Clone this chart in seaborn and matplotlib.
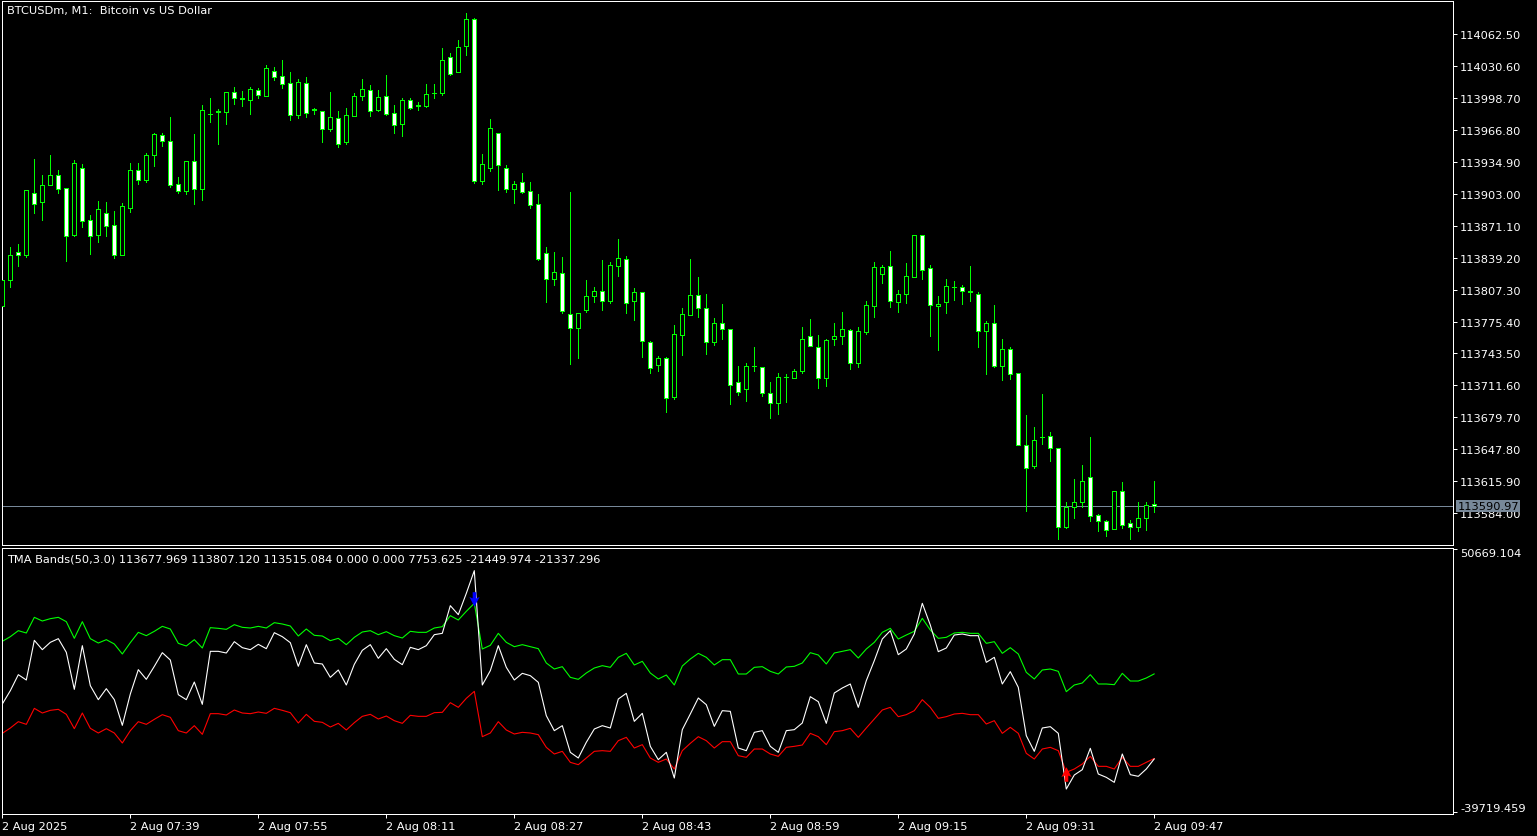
import numpy as np
import pandas as pd
import matplotlib.pyplot as plt
import seaborn as sns
from matplotlib.path import Path

# BTCUSDm M1 蜡烛数据 (2 Aug 2025 07:23 - 09:47)
opens = [
    113791.3, 113817.3, 113844.7, 113842.3, 113903.7, 113895.3, 113912.3, 113921.7, 113908.7, 113862.0,
    113928.7, 113876.7, 113862.3, 113883.7, 113871.7, 113842.3, 113889.3, 113926.7, 113917.3, 113941.7,
    113961.7, 113955.7, 113912.7, 113906.3, 113935.7, 113908.3, 113982.5, 113985.3, 113985.3, 114004.7,
    113998.3, 113997.3, 114006.7, 114001.3, 114025.7, 114020.7, 114013.7, 113982.3, 114013.7, 113987.3,
    113985.7, 113968.3, 113978.7, 113955.0, 113981.3, 114001.3, 114006.7, 113987.3, 114000.7, 113983.7,
    113973.3, 113996.7, 113991.3, 113991.3, 114003.7, 114004.3, 114039.7, 114024.7, 114050.7, 114077.7,
    113916.3, 113929.3, 113963.7, 113928.7, 113908.3, 113914.7, 113905.7, 113892.7, 113843.7, 113818.3,
    113823.7, 113782.7, 113769.3, 113787.3, 113801.3, 113805.7, 113796.3, 113831.3, 113837.7, 113795.7,
    113804.7, 113754.7, 113731.7, 113738.7, 113700.3, 113761.7, 113781.7, 113801.7, 113788.7, 113754.7,
    113773.7, 113767.7, 113714.7, 113707.7, 113730.7, 113729.7, 113703.7, 113693.7, 113719.7, 113718.7,
    113725.7, 113760.7, 113749.7, 113718.7, 113757.7, 113760.7, 113766.7, 113733.7, 113764.7, 113790.7,
    113822.7, 113830.7, 113794.7, 113802.7, 113819.7, 113861.7, 113828.7, 113790.7, 113794.7, 113809.7,
    113809.7, 113805.3, 113802.7, 113765.7, 113773.7, 113730.7, 113747.7, 113723.7, 113651.7, 113630.7,
    113660.0, 113660.7, 113648.7, 113569.7, 113589.7, 113594.7, 113619.7, 113581.7, 113575.7, 113567.7,
    113605.7, 113573.7, 113569.7, 113578.7, 113592.7,
]
highs = [
    113820.0, 113850.0, 113853.0, 113906.7, 113938.0, 113922.0, 113942.0, 113927.0, 113908.7, 113937.0,
    113933.0, 113882.0, 113896.0, 113895.0, 113886.0, 113894.0, 113934.0, 113934.0, 113944.0, 113964.0,
    113964.0, 113980.0, 113919.7, 113935.7, 113963.0, 113992.0, 113999.0, 113988.0, 114004.7, 114010.0,
    114006.0, 114010.0, 114009.3, 114032.0, 114029.7, 114037.0, 114025.0, 114018.0, 114020.0, 113989.3,
    113985.7, 114005.0, 113985.7, 113989.0, 114003.7, 114018.0, 114011.7, 114007.0, 114022.0, 113991.7,
    113999.0, 113998.7, 113994.7, 114013.0, 114013.0, 114048.7, 114043.7, 114056.7, 114084.0, 114078.7,
    113942.7, 113977.7, 113963.7, 113931.7, 113915.7, 113924.0, 113915.0, 113903.0, 113850.0, 113845.0,
    113840.0, 113905.0, 113783.7, 113817.0, 113809.7, 113837.0, 113835.0, 113858.0, 113840.7, 113808.7,
    113804.7, 113755.7, 113740.7, 113739.7, 113771.7, 113788.7, 113838.0, 113819.7, 113802.7, 113778.7,
    113793.0, 113767.7, 113730.7, 113733.7, 113749.7, 113729.7, 113714.7, 113723.7, 113722.7, 113727.7,
    113769.7, 113777.7, 113761.7, 113757.7, 113773.7, 113784.7, 113767.7, 113769.7, 113795.7, 113834.7,
    113831.7, 113845.7, 113806.7, 113833.7, 113861.7, 113861.7, 113831.7, 113800.7, 113817.7, 113815.7,
    113811.7, 113830.7, 113804.7, 113775.7, 113791.7, 113757.7, 113749.7, 113723.7, 113681.7, 113669.7,
    113702.7, 113664.7, 113648.7, 113594.7, 113617.7, 113631.7, 113659.7, 113582.7, 113576.7, 113605.7,
    113614.7, 113576.7, 113594.7, 113594.7, 113615.7,
]
lows = [
    113786.0, 113810.3, 113831.3, 113840.3, 113884.0, 113877.3, 113912.3, 113904.3, 113836.3, 113860.7,
    113870.3, 113843.0, 113855.3, 113861.3, 113839.3, 113842.3, 113885.3, 113913.3, 113915.3, 113931.3,
    113950.7, 113910.3, 113904.3, 113903.3, 113893.0, 113897.3, 113975.0, 113953.0, 113973.0, 113993.0,
    113991.0, 113983.0, 113999.3, 114001.3, 114017.3, 114009.3, 113977.3, 113979.3, 113980.3, 113983.0,
    113955.0, 113966.3, 113950.0, 113953.0, 113981.3, 113997.3, 113981.3, 113986.3, 113982.3, 113964.3,
    113961.3, 113988.3, 113987.3, 113990.3, 113999.3, 114002.3, 114022.3, 114024.7, 114042.3, 113914.3,
    113913.3, 113926.3, 113907.3, 113905.3, 113894.3, 113904.3, 113889.3, 113837.3, 113795.3, 113812.3,
    113784.3, 113733.3, 113739.3, 113785.3, 113795.3, 113787.3, 113794.3, 113821.3, 113784.3, 113777.3,
    113740.3, 113724.3, 113726.3, 113685.3, 113698.3, 113742.3, 113781.7, 113780.3, 113743.3, 113752.3,
    113758.3, 113693.3, 113701.7, 113696.3, 113726.3, 113700.7, 113678.7, 113683.3, 113695.3, 113718.7,
    113723.7, 113750.7, 113708.7, 113710.7, 113751.7, 113752.7, 113727.7, 113729.7, 113762.7, 113779.7,
    113813.7, 113789.7, 113784.7, 113793.7, 113819.7, 113817.7, 113760.7, 113746.7, 113783.7, 113796.5,
    113792.7, 113796.3, 113749.7, 113722.7, 113729.7, 113716.7, 113717.7, 113651.7, 113585.7, 113628.7,
    113652.7, 113635.7, 113557.7, 113568.7, 113578.7, 113589.7, 113575.7, 113565.7, 113561.3, 113567.7,
    113568.7, 113557.7, 113565.7, 113566.7, 113584.7,
]
closes = [
    113817.3, 113841.7, 113842.3, 113906.7, 113893.3, 113911.7, 113921.7, 113908.3, 113861.3, 113934.0,
    113875.7, 113861.3, 113887.7, 113871.3, 113842.3, 113890.7, 113926.7, 113917.3, 113941.7, 113962.7,
    113955.7, 113912.3, 113906.3, 113935.7, 113908.3, 113986.7, 113983.0, 113985.5, 114004.7, 113998.7,
    113998.5, 114008.0, 114002.3, 114028.7, 114019.7, 114012.7, 113982.3, 114014.7, 113984.3, 113987.5,
    113968.3, 113979.7, 113953.3, 113981.7, 114000.7, 114007.7, 113986.3, 113999.7, 113983.3, 113972.3,
    113996.7, 113989.3, 113991.5, 114002.7, 114003.9, 114036.7, 114023.3, 114049.7, 114077.7, 113916.3,
    113932.7, 113968.7, 113931.7, 113908.3, 113912.7, 113905.3, 113892.3, 113838.3, 113818.3, 113824.7,
    113786.3, 113769.3, 113783.7, 113800.7, 113805.7, 113796.3, 113831.7, 113838.7, 113793.7, 113804.7,
    113755.7, 113728.7, 113738.7, 113698.7, 113762.7, 113782.7, 113801.7, 113788.7, 113754.7, 113773.7,
    113767.7, 113711.7, 113704.7, 113730.7, 113730.9, 113703.7, 113693.7, 113719.7, 113719.9, 113725.7,
    113757.7, 113750.7, 113718.7, 113756.7, 113760.7, 113767.7, 113733.7, 113765.7, 113791.7, 113829.7,
    113829.7, 113795.7, 113802.7, 113820.7, 113861.7, 113826.7, 113791.7, 113792.7, 113810.7, 113809.9,
    113805.7, 113805.5, 113765.7, 113773.7, 113730.7, 113747.7, 113722.7, 113651.7, 113628.7, 113656.7,
    113660.2, 113648.7, 113569.7, 113589.7, 113594.7, 113615.7, 113580.7, 113575.7, 113566.7, 113605.7,
    113571.7, 113569.7, 113578.7, 113591.7, 113590.97,
]

# TMA Bands 指标数据
tma_upper = [
    18934, 20538, 22600, 21798, 27183, 25922, 26724, 27183, 25693, 19965,
    25693, 19850, 18361, 19506, 18017, 14580, 18475, 22027, 20881, 22371,
    24089, 23173, 18246, 17330, 19506, 16642, 23631, 23402, 23058, 24662,
    23746, 23516, 24089, 23516, 25350, 24891, 24204, 20767, 23173, 20996,
    20767, 19163, 19965, 17788, 20308, 22142, 22600, 21225, 22256, 20881,
    20079, 22371, 22027, 22027, 23516, 23975, 27755, 26266, 29245, 31995,
    16298, 17559, 21683, 18590, 17100, 17788, 17100, 16413, 11487, 9424,
    10226, 6560, 5873, 8049, 9768, 10570, 9997, 13434, 14809, 10799,
    12059, 8049, 5987, 7362, 3925, 10455, 12861, 14809, 13434, 10799,
    12632, 12632, 7706, 7706, 9997, 10226, 8622, 7706, 10112, 10341,
    11487, 15038, 14236, 11143, 14924, 15497, 16069, 13205, 16298, 18590,
    22027, 23402, 19736, 21110, 22371, 26839, 22829, 19965, 20308, 21798,
    22027, 21683, 21683, 18246, 18819, 14809, 16757, 14580, 8279, 5987,
    9081, 9424, 8622, 1634, 3925, 4612, 7477, 4269, 4269, 4040,
    7935, 5300, 5300, 6331, 7754,
]
tma_middle = [
    -2606, 1977, 7477, 5644, 19277, 16069, 18590, 19850, 15153, 2436,
    17444, 3696, -1116, 2665, -1116, -9938, 832, 9195, 5873, 10341,
    15038, 12518, 602, -1116, 4956, -2720, 15497, 15497, 14924, 18819,
    16757, 16069, 17902, 16413, 21912, 20538, 18475, 10341, 17788, 11487,
    11143, 6560, 9081, 3925, 11028, 15840, 17788, 13091, 16413, 12747,
    10914, 16871, 16069, 17444, 21225, 21683, 31193, 28099, 35432, 43223,
    3925, 8851, 17444, 9997, 5644, 7935, 7133, 4841, -6616, -11771,
    -10053, -19218, -21166, -15781, -11198, -10053, -10855, -887, 1061, -8563,
    -5813, -17156, -21739, -19218, -28040, -11427, -6043, -543, -2835, -10282,
    -4897, -5126, -17729, -18645, -12344, -11771, -17156, -19218, -11771, -11427,
    -9136, -85, -1804, -9251, 1175, 2894, 4269, -3751, 5414, 12289,
    19736, 22600, 14351, 16298, 21454, 31995, 24548, 15382, 16642, 21110,
    21454, 20881, 20881, 11716, 13434, 4269, 8508, 3123, -13490, -18874,
    -10855, -10396, -12688, -31821, -27009, -25176, -17843, -26665, -27811, -29530,
    -19791, -26894, -27467, -24947, -21450,
]
tma_lower = [
    -12688, -10855, -8678, -9594, -4095, -5699, -4782, -4439, -6157, -11084,
    -5699, -10969, -12573, -11084, -12573, -16010, -11771, -8678, -9594, -7876,
    -6272, -7188, -11771, -12573, -10053, -13031, -5928, -5928, -6386, -4668,
    -5699, -5928, -5354, -5813, -4095, -4782, -5584, -9136, -6157, -8563,
    -8907, -10511, -9251, -11542, -9021, -6845, -6157, -7761, -6730, -8334,
    -9251, -6501, -6845, -6845, -5584, -5470, -2147, -3751, -658, 1746,
    -13833, -12573, -8678, -11542, -12917, -12344, -12573, -13146, -17500, -19791,
    -18874, -22655, -23457, -21166, -18874, -18645, -18874, -15208, -14063, -17729,
    -16583, -21166, -22655, -21510, -24947, -18645, -16125, -13833, -15208, -17729,
    -15552, -15552, -20364, -20937, -18073, -18073, -19791, -20593, -17500, -17156,
    -16698, -12688, -13833, -16583, -12115, -11771, -10969, -14063, -10855, -7761,
    -4668, -3751, -6959, -6272, -4897, -1116, -3751, -7532, -6959, -6043,
    -5813, -6272, -6272, -9480, -8334, -12688, -10625, -12688, -19562, -21510,
    -18073, -17500, -18645, -26092, -24947, -23228, -20593, -24030, -24030, -24947,
    -20937, -24030, -24030, -22655, -21337,
]
# 信号箭头
sell_bar, sell_val = [59], [33480]
buy_bar, buy_val = [133], [-26660]

# 坐标轴刻度
price_ticks = [114062.50, 114030.60, 113998.70, 113966.80, 113934.90, 113903.00, 113871.10, 113839.20,
               113807.30, 113775.40, 113743.50, 113711.60, 113679.70, 113647.80, 113615.90, 113584.00]
ind_max, ind_min = 50669.104, -39719.459
time_ticks = [0, 16, 32, 48, 64, 80, 96, 112, 128, 144]
time_labels = ['2 Aug 2025', '2 Aug 07:39', '2 Aug 07:55', '2 Aug 08:11', '2 Aug 08:27',
               '2 Aug 08:43', '2 Aug 08:59', '2 Aug 09:15', '2 Aug 09:31', '2 Aug 09:47']
title_main = 'BTCUSDm, M1:  Bitcoin vs US Dollar'
title_ind = 'TMA Bands(50,3.0) 113677.969 113807.120 113515.084 0.000 0.000 7753.625 -21449.974 -21337.296'

# 样式设置
sns.set_style('dark', {'axes.facecolor': 'black', 'figure.facecolor': 'black'})
plt.rcParams['font.family'] = ['DejaVu Sans']
FS = 8.2
lime = '#00FF00'
px = 0.72  # 1 像素 (pt)

W, H = 1537, 837
fig = plt.figure(figsize=(W / 100, H / 100), dpi=100, facecolor='black')
ax = fig.add_axes([2 / W, 1 - 546 / H, 1451 / W, 544 / H])
ax2 = fig.add_axes([2 / W, 1 - 815 / H, 1451 / W, 266 / H])

bars = np.arange(len(opens))
o = np.array(opens)
c = np.array(closes)
bull = c >= o

# 蜡烛图
ax.vlines(bars, lows, highs, color=lime, lw=px, antialiased=False, zorder=2)
ax.bar(bars, np.abs(c - o), bottom=np.minimum(o, c), width=0.5,
       color=np.where(bull, 'black', 'white'), edgecolor=lime, linewidth=px,
       antialiased=False, zorder=3)
ax.axhline(closes[-1], color='#778899', lw=px, zorder=1)
ax.annotate(f'{closes[-1]:.2f}', xy=(1, closes[-1]), xycoords=('axes fraction', 'data'),
            xytext=(3.2, 0), textcoords='offset points', va='center', ha='left',
            fontsize=FS, color='black', annotation_clip=False, zorder=10,
            bbox=dict(boxstyle='square,pad=0.12', fc='#778899', ec='none'))

ax.set_ylim(113552, 114096)
ax.set_yticks(price_ticks)
ax.set_yticklabels([f'{v:.2f}' for v in price_ticks])

# 指标窗口
ind = pd.DataFrame({
    'bar': np.tile(bars, 3),
    'value': tma_upper + tma_lower + tma_middle,
    'line': ['upper'] * len(bars) + ['lower'] * len(bars) + ['middle'] * len(bars),
})
sns.lineplot(data=ind, x='bar', y='value', hue='line',
             palette={'upper': lime, 'lower': '#FF0000', 'middle': 'white'},
             linewidth=0.8, legend=False, estimator=None, sort=False, ax=ax2)

arrow_down = Path([(-0.25, 1), (0.25, 1), (0.25, 0.15), (0.7, 0.35), (0, -1), (-0.7, 0.35), (-0.25, 0.15), (-0.25, 1)],
                  [Path.MOVETO] + [Path.LINETO] * 6 + [Path.CLOSEPOLY])
arrow_up = Path([(x, -y) for x, y in arrow_down.vertices], arrow_down.codes)
ax2.scatter(sell_bar, sell_val, marker=arrow_down, s=110, color='#0000FF', zorder=5, linewidths=0)
ax2.scatter(buy_bar, buy_val, marker=arrow_up, s=110, color='#FF0000', zorder=5, linewidths=0)

ax2.set_ylim(-40411.4, 51012.8)
ax2.set_yticks([ind_max, ind_min])
ax2.set_yticklabels(['', ''])
# 指标窗口的最大值/最小值标签
ax2.annotate(f'{ind_max:.3f}', xy=(1, ind_max), xycoords=('axes fraction', 'data'),
             xytext=(5.2, 0.8), textcoords='offset points', va='top', ha='left',
             fontsize=FS, color='white', annotation_clip=False)
ax2.annotate(f'{ind_min:.3f}', xy=(1, ind_min), xycoords=('axes fraction', 'data'),
             xytext=(5.2, -0.8), textcoords='offset points', va='bottom', ha='left',
             fontsize=FS, color='white', annotation_clip=False)

ax2.set_xticks(time_ticks)
ax2.set_xticklabels(time_labels, ha='left')

for a in (ax, ax2):
    a.set_facecolor('black')
    a.set_xlim(-0.04, 181.34)
    a.grid(False)
    a.set_xlabel('')
    a.set_ylabel('')
    for s in a.spines.values():
        s.set_color('white')
        s.set_linewidth(px)
    a.yaxis.tick_right()
    a.tick_params(axis='y', colors='white', labelcolor='white', length=3, width=px,
                  pad=2.2, labelsize=FS, direction='out', left=False, right=True)
ax.tick_params(axis='x', bottom=False, labelbottom=False)
ax2.tick_params(axis='x', colors='white', labelcolor='white', length=3, width=px,
                pad=2, labelsize=FS, direction='out', bottom=True)

fig.text(7 / W, 1 - 11 / H, title_main, color='white', fontsize=FS, va='center', ha='left')
fig.text(7 / W, 1 - 560 / H, title_ind, color='white', fontsize=FS, va='center', ha='left')

fig.savefig('out.png', dpi=100, facecolor='black')
